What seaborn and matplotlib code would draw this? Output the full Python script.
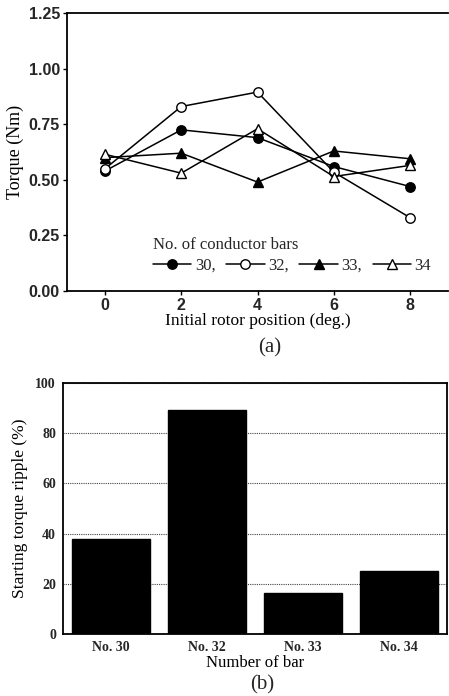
import matplotlib
matplotlib.use("Agg")
import matplotlib.pyplot as plt
import seaborn as sns
import pandas as pd
from matplotlib.lines import Line2D

sns.set_theme(style="white")
plt.rcParams['font.family'] = ['Liberation Serif', 'DejaVu Serif']

# ---- data (a) ----
positions = [0, 2, 4, 6, 8]
torque_30 = [0.54, 0.725, 0.69, 0.56, 0.47]
torque_32 = [0.55, 0.83, 0.895, 0.535, 0.33]
torque_33 = [0.60, 0.62, 0.49, 0.63, 0.595]
torque_34 = [0.615, 0.53, 0.73, 0.515, 0.565]
series_labels = ["30,", "32,", "33,", "34"]

# ---- data (b) ----
bar_names = ["No. 30", "No. 32", "No. 33", "No. 34"]
ripple = [38, 89, 16.5, 25]

fig = plt.figure(figsize=(4.49, 6.96), dpi=100)

# ---------- (a) ----------
ax1 = fig.add_axes([0.149, 0.582, 0.849, 0.399])
styles = [("o", "black"), ("o", "white"), ("^", "black"), ("^", "white")]
all_y = [torque_30, torque_32, torque_33, torque_34]
handles = []
for ys, (m, fc), lab in zip(all_y, styles, series_labels):
    df = pd.DataFrame({"x": positions, "y": ys})
    sns.lineplot(data=df, x="x", y="y", ax=ax1, color="black", lw=1.1,
                 marker=m, markersize=6.8, markerfacecolor=fc,
                 markeredgecolor="black", markeredgewidth=1.0)
    handles.append(Line2D([], [], color="black", lw=1.1, marker=m, markersize=6.8,
                          markerfacecolor=fc, markeredgecolor="black"))
ax1.set_xlim(-1, 9)
ax1.set_ylim(0, 1.25)
ax1.set_xticks([0, 2, 4, 6, 8])
ax1.set_yticks([0, 0.25, 0.5, 0.75, 1.0, 1.25])
ax1.set_yticklabels(["0.00", "0.25", "0.50", "0.75", "1.00", "1.25"])
for lbl in ax1.get_xticklabels() + ax1.get_yticklabels():
    lbl.set_family(['Liberation Sans', 'DejaVu Sans'])
    lbl.set_fontsize(11.5)
    lbl.set_fontweight("bold")
ax1.tick_params(axis="both", which="both", direction="out", length=3,
                width=1, color="black", bottom=True, left=True, pad=2)
for s in ["left", "bottom", "top"]:
    ax1.spines[s].set_color("black")
    ax1.spines[s].set_linewidth(1.3)
ax1.spines["right"].set_visible(False)
ax1.set_xlabel("Initial rotor position (deg.)", fontsize=12.5, color="black", labelpad=0)
ax1.set_ylabel("Torque (Nm)", fontsize=13, color="black", labelpad=3)
leg = ax1.legend(handles, series_labels, title="No. of conductor bars", ncol=4,
                 loc="lower left", bbox_to_anchor=(0.2, 0.025), frameon=False,
                 fontsize=12, title_fontsize=12, handlelength=2.3,
                 handletextpad=0.2, columnspacing=0.65, borderpad=0.1,
                 labelspacing=0.3)
leg._legend_box.align = "left"
fig.text(0.6, 0.5, "(a)", ha="center", va="center", fontsize=15)

# ---------- (b) ----------
ax2 = fig.add_axes([0.140, 0.089, 0.856, 0.361])
dfb = pd.DataFrame({"name": bar_names, "val": ripple})
sns.barplot(data=dfb, x="name", y="val", ax=ax2, color="black", width=0.81,
            saturation=1, edgecolor="black", zorder=3)
ax2.set_xlim(-0.5, 3.5)
ax2.set_ylim(0, 100)
ax2.set_yticks([0, 20, 40, 60, 80, 100])
ax2.yaxis.grid(True, linestyle=(0, (1, 1)), color="#444444", lw=0.8, zorder=0)
ax2.set_axisbelow(True)
for s in ax2.spines.values():
    s.set_color("black")
    s.set_linewidth(1.3)
ax2.tick_params(axis="both", length=0, pad=5)
for lbl in ax2.get_xticklabels() + ax2.get_yticklabels():
    lbl.set_fontsize(10)
    lbl.set_fontweight("bold")
ax2.set_xlabel("Number of bar", fontsize=12, color="black", labelpad=1)
ax2.set_ylabel("Starting torque ripple (%)", fontsize=12.5, color="black", labelpad=5)
fig.text(0.585, 0.016, "(b)", ha="center", va="center", fontsize=15)

fig.savefig("out.png", dpi=100, facecolor="white")
